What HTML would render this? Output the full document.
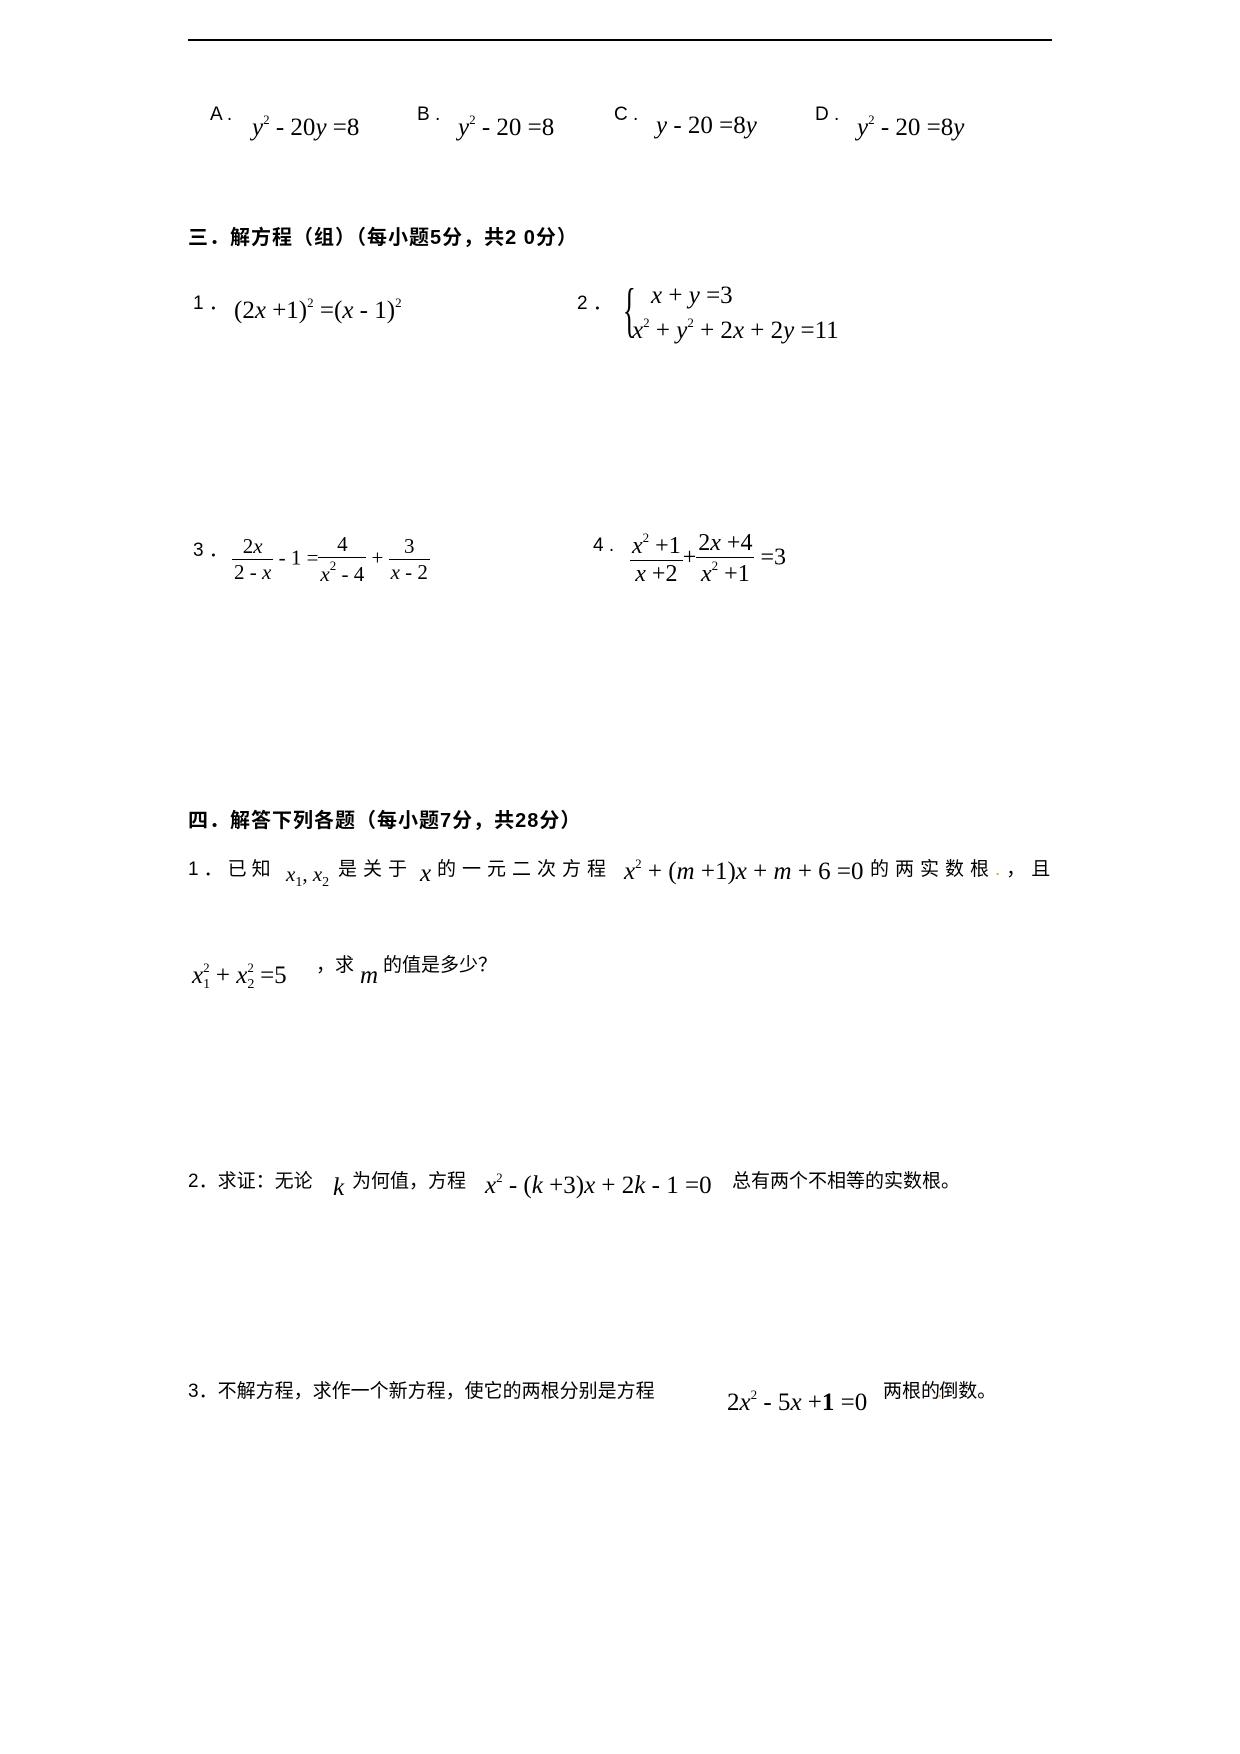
<!DOCTYPE html>
<html><head><meta charset="utf-8"><style>
body{margin:0;width:1240px;height:1754px;background:#fff;position:relative;font-family:"Liberation Serif","Noto Serif CJK SC",serif;color:#000}
.a{position:absolute;white-space:nowrap}
.m{font-family:"Liberation Serif",serif;font-size:25px}
.s{font-family:"Liberation Sans","Noto Sans CJK SC",sans-serif;font-size:19px}
.h{font-family:"Liberation Sans","Noto Sans CJK SC",sans-serif;font-size:20px;font-weight:bold;letter-spacing:1px}
i{font-style:italic}
sup{font-size:13px;vertical-align:11px}
sub{font-size:14px;vertical-align:-5px}
.fr{display:inline-block;vertical-align:middle;text-align:center}
.fr span{display:block;padding:0 2px}
.fr .n{border-bottom:1px solid #000}
</style></head><body>
<div class="a" style="left:188px;top:39px;width:864px;height:2px;background:#000"></div>

<div class="a s" style="left:210px;top:104px">A .</div>
<div class="a m" style="left:252px;top:112px"><i>y</i><sup>2</sup> - 20<i>y</i> =8</div>
<div class="a s" style="left:417px;top:104px">B .</div>
<div class="a m" style="left:458px;top:112px"><i>y</i><sup>2</sup> - 20 =8</div>
<div class="a s" style="left:614px;top:104px">C .</div>
<div class="a m" style="left:656px;top:112px"><i>y</i> - 20 =8<i>y</i></div>
<div class="a s" style="left:815px;top:104px">D .</div>
<div class="a m" style="left:857px;top:112px"><i>y</i><sup>2</sup> - 20 =8<i>y</i></div>

<div class="a h" style="left:188px;top:221px">三．解方程（组）（每小题5分，共2 0分）</div>

<div class="a s" style="left:193px;top:288px">1 ．</div>
<div class="a m" style="left:234px;top:295px">(2<i>x</i> +1)<sup>2</sup> =(<i>x</i> - 1)<sup>2</sup></div>
<div class="a s" style="left:577px;top:288px">2 ．</div>
<div class="a" style="left:615px;top:280px;font-size:60px;line-height:1;font-family:'Liberation Serif',serif;transform:scaleX(0.45)">{</div>
<div class="a m" style="left:651px;top:282px"><i>x</i> + <i>y</i> =3</div>
<div class="a m" style="left:632px;top:315px"><i>x</i><sup>2</sup> + <i>y</i><sup>2</sup> + 2<i>x</i> + 2<i>y</i> =11</div>

<div class="a s" style="left:193px;top:535px">3 ．</div>
<div class="a" style="left:232px;top:532px;font-size:21px;font-family:'Liberation Serif',serif">
<span class="fr"><span class="n">2<i>x</i></span><span>2 - <i>x</i></span></span> - 1 =<span class="fr"><span class="n">4</span><span><i>x</i><sup>2</sup> - 4</span></span> + <span class="fr"><span class="n">3</span><span><i>x</i> - 2</span></span></div>
<div class="a s" style="left:593px;top:535px">4 .</div>
<div class="a" style="left:630px;top:530px;font-size:24px;font-family:'Liberation Serif',serif">
<span class="fr"><span class="n"><i>x</i><sup>2</sup> +1</span><span><i>x</i> +2</span></span>+<span class="fr"><span class="n">2<i>x</i> +4</span><span><i>x</i><sup>2</sup> +1</span></span> =3</div>

<div class="a h" style="left:188px;top:804px">四．解答下列各题（每小题7分，共28分）</div>

<div class="a s" style="left:188px;top:854px;letter-spacing:5px">1．已知</div>
<div class="a m" style="left:286px;top:862px;font-size:21px"><i>x</i><sub>1</sub>, <i>x</i><sub>2</sub></div>
<div class="a s" style="left:338px;top:854px;letter-spacing:6px">是关于</div>
<div class="a m" style="left:420px;top:860px"><i>x</i></div>
<div class="a s" style="left:437px;top:854px;letter-spacing:6px">的一元二次方程</div>
<div class="a m" style="left:624px;top:856px"><i>x</i><sup>2</sup> + (<i>m</i> +1)<i>x</i> + <i>m</i> + 6 =0</div>
<div class="a s" style="left:870px;top:854px;letter-spacing:6px">的两实数根<span style="color:#e0a020">.</span>，且</div>

<div class="a m" style="left:192px;top:960px"><i>x</i><sub>1</sub><sup style="margin-left:-7px">2</sup> + <i>x</i><sub>2</sub><sup style="margin-left:-7px">2</sup> =5</div>
<div class="a s" style="left:316px;top:950px">，求</div>
<div class="a m" style="left:360px;top:962px"><i>m</i></div>
<div class="a s" style="left:383px;top:950px">的值是多少？</div>

<div class="a s" style="left:188px;top:1166px">2．求证：无论</div>
<div class="a m" style="left:333px;top:1174px"><i>k</i></div>
<div class="a s" style="left:352px;top:1166px">为何值，方程</div>
<div class="a m" style="left:485px;top:1170px"><i>x</i><sup>2</sup> - (<i>k</i> +3)<i>x</i> + 2<i>k</i> - 1 =0</div>
<div class="a s" style="left:732px;top:1166px">总有两个不相等的实数根。</div>

<div class="a s" style="left:188px;top:1376px">3．不解方程，求作一个新方程，使它的两根分别是方程</div>
<div class="a m" style="left:727px;top:1387px">2<i>x</i><sup>2</sup> - 5<i>x</i> +<b>1</b> =0</div>
<div class="a s" style="left:883px;top:1376px">两根的<span style="color:#e0a020;margin:0 -3px">.</span>倒数。</div>
</body></html>
